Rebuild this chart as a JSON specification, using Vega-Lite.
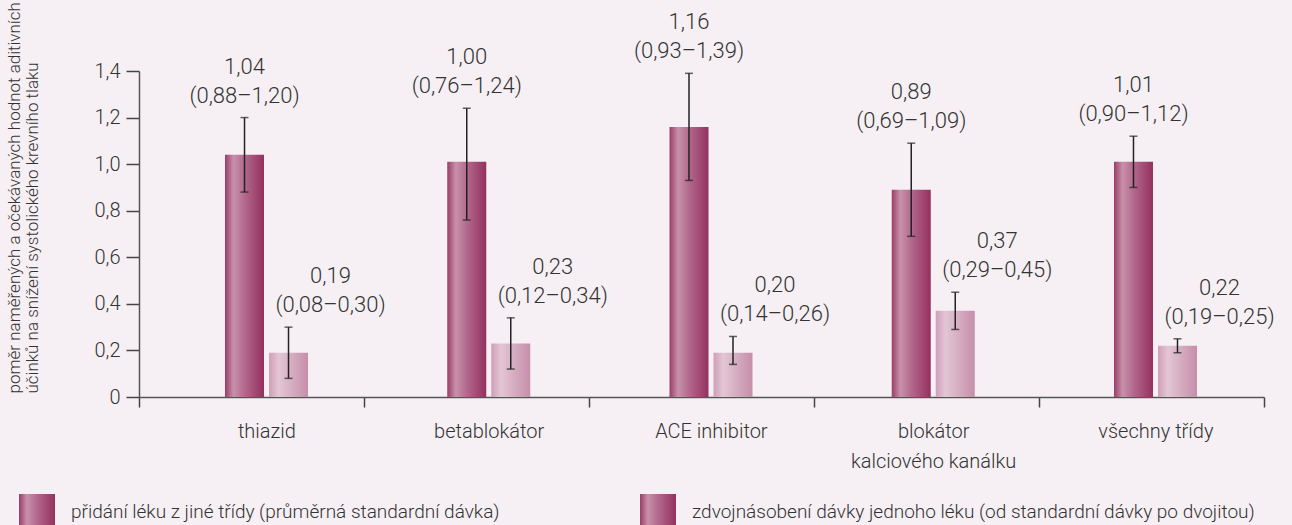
{
  "$schema": "https://vega.github.io/schema/vega-lite/v6.json",
  "width": 1125,
  "height": 326,
  "autosize": {"type": "none"},
  "padding": {"left": 139, "top": 71, "right": 28, "bottom": 128},
  "background": "#f6f0f4",
  "config": {
    "view": {"stroke": null},
    "font": "Roboto",
    "text": {"font": "Roboto", "fontWeight": 300},
    "axis": {"labelFont": "Roboto", "titleFont": "Roboto", "labelFontWeight": 300, "titleFontWeight": 300},
    "legend": {"labelFont": "Roboto", "labelFontWeight": 300}
  },
  "data": {
    "values": [
      {"cat": "thiazid", "series": "přidání léku z jiné třídy (průměrná standardní dávka)", "value": 1.04, "lo": 0.88, "hi": 1.20, "label": "1,04", "ci": "(0,88–1,20)"},
      {"cat": "thiazid", "series": "zdvojnásobení dávky jednoho léku (od standardní dávky po dvojitou)", "value": 0.19, "lo": 0.08, "hi": 0.30, "label": "0,19", "ci": "(0,08–0,30)"},
      {"cat": "betablokátor", "series": "přidání léku z jiné třídy (průměrná standardní dávka)", "value": 1.01, "lo": 0.76, "hi": 1.24, "label": "1,00", "ci": "(0,76–1,24)"},
      {"cat": "betablokátor", "series": "zdvojnásobení dávky jednoho léku (od standardní dávky po dvojitou)", "value": 0.23, "lo": 0.12, "hi": 0.34, "label": "0,23", "ci": "(0,12–0,34)"},
      {"cat": "ACE inhibitor", "series": "přidání léku z jiné třídy (průměrná standardní dávka)", "value": 1.16, "lo": 0.93, "hi": 1.39, "label": "1,16", "ci": "(0,93–1,39)"},
      {"cat": "ACE inhibitor", "series": "zdvojnásobení dávky jednoho léku (od standardní dávky po dvojitou)", "value": 0.19, "lo": 0.14, "hi": 0.26, "label": "0,20", "ci": "(0,14–0,26)"},
      {"cat": "blokátor kalciového kanálku", "series": "přidání léku z jiné třídy (průměrná standardní dávka)", "value": 0.89, "lo": 0.69, "hi": 1.09, "label": "0,89", "ci": "(0,69–1,09)"},
      {"cat": "blokátor kalciového kanálku", "series": "zdvojnásobení dávky jednoho léku (od standardní dávky po dvojitou)", "value": 0.37, "lo": 0.29, "hi": 0.45, "label": "0,37", "ci": "(0,29–0,45)"},
      {"cat": "všechny třídy", "series": "přidání léku z jiné třídy (průměrná standardní dávka)", "value": 1.01, "lo": 0.90, "hi": 1.12, "label": "1,01", "ci": "(0,90–1,12)"},
      {"cat": "všechny třídy", "series": "zdvojnásobení dávky jednoho léku (od standardní dávky po dvojitou)", "value": 0.22, "lo": 0.19, "hi": 0.25, "label": "0,22", "ci": "(0,19–0,25)"}
    ]
  },
  "resolve": {"scale": {"x": "independent"}, "axis": {"x": "independent"}},
  "layer": [
    {
      "mark": {"type": "rule", "opacity": 0},
      "encoding": {
        "x": {
          "field": "cat", "type": "nominal", "sort": null,
          "scale": {"paddingInner": 0, "paddingOuter": 0},
          "axis": {
            "orient": "bottom", "title": null, "labels": false,
            "domainColor": "#555", "domainWidth": 1.5,
            "tickColor": "#444", "tickWidth": 1.5, "tickSize": 10, "tickBand": "extent"
          }
        },
        "y": {"field": "value", "type": "quantitative"}
      }
    },
    {
      "encoding": {
        "x": {
          "field": "cat", "type": "nominal", "sort": null,
          "scale": {"paddingInner": 0, "paddingOuter": 0.031, "align": 1},
          "axis": {
            "orient": "bottom", "title": null, "labelAngle": 0, "domain": false, "ticks": false,
            "labelFontSize": 20, "labelColor": "#333", "labelPadding": 24, "labelOffset": 3,
            "labelBaseline": "top", "labelLineHeight": 30, "labelLimit": 400,
            "labelExpr": "datum.value == 'blokátor kalciového kanálku' ? ['blokátor', 'kalciového kanálku'] : datum.value"
          }
        },
        "xOffset": {
          "field": "series", "type": "nominal",
          "scale": {
            "domain": ["_l", "přidání léku z jiné třídy (průměrná standardní dávka)", "zdvojnásobení dávky jednoho léku (od standardní dávky po dvojitou)", "_r"],
            "paddingInner": 0.1136, "paddingOuter": 0.582, "align": 0.551
          }
        }
      },
      "layer": [
        {
          "transform": [{"filter": "datum.series == 'přidání léku z jiné třídy (průměrná standardní dávka)'"}],
          "mark": {"type": "bar", "color": {"gradient": "linear", "x1": 0, "y1": 0, "x2": 1, "y2": 0, "stops": [
            {"offset": 0, "color": "#9b3d69"},
            {"offset": 0.22, "color": "#c891ab"},
            {"offset": 0.5, "color": "#b2698d"},
            {"offset": 1, "color": "#94305f"}]}},
          "encoding": {
            "y": {
              "field": "value", "type": "quantitative",
              "scale": {"domain": [0, 1.4], "nice": false},
              "axis": {
                "values": [0, 0.2, 0.4, 0.6, 0.8, 1.0, 1.2, 1.4],
                "labelExpr": "datum.value == 0 ? '0' : replace(format(datum.value, '.1f'), '.', ',')",
                "grid": false,
                "domainColor": "#555", "domainWidth": 1.5,
                "tickColor": "#444", "tickWidth": 1.5, "tickSize": 13,
                "labelFontSize": 20, "labelColor": "#333", "labelPadding": 6,
                "title": ["poměr naměřených a očekávaných hodnot aditivních", "účinků na snížení systolického krevního tlaku"],
                "titleFontSize": 17, "titleColor": "#333", "titleAngle": 270,
                "titleAlign": "left", "titleBaseline": "top", "titleX": -133, "titleY": 322, "titleLineHeight": 18
              }
            },
            "opacity": {
              "field": "series", "type": "nominal",
              "scale": {
                "domain": ["přidání léku z jiné třídy (průměrná standardní dávka)", "zdvojnásobení dávky jednoho léku (od standardní dávky po dvojitou)"],
                "range": [1, 1]
              },
              "legend": {
                "title": null, "orient": "none", "legendX": -120, "legendY": 423,
                "direction": "horizontal", "columns": 2,
                "symbolType": "square", "symbolSize": 1296, "symbolStrokeWidth": 0,
                "labelFontSize": 19, "labelColor": "#333", "labelLimit": 700, "labelOffset": 16,
                "columnPadding": 140
              }
            }
          }
        },
        {
          "transform": [{"filter": "datum.series != 'přidání léku z jiné třídy (průměrná standardní dávka)'"}],
          "mark": {"type": "bar", "color": {"gradient": "linear", "x1": 0, "y1": 0, "x2": 1, "y2": 0, "stops": [
            {"offset": 0, "color": "#cf9fb7"},
            {"offset": 0.25, "color": "#e3c6d4"},
            {"offset": 1, "color": "#c58ea9"}]}},
          "encoding": {"y": {"field": "value", "type": "quantitative"}}
        },
        {
          "mark": {"type": "rule", "color": "#222", "strokeWidth": 1.5},
          "encoding": {"y": {"field": "lo", "type": "quantitative"}, "y2": {"field": "hi"}}
        },
        {
          "mark": {"type": "tick", "color": "#222", "size": 8, "thickness": 1.5},
          "encoding": {"y": {"field": "lo", "type": "quantitative"}}
        },
        {
          "mark": {"type": "tick", "color": "#222", "size": 8, "thickness": 1.5},
          "encoding": {"y": {"field": "hi", "type": "quantitative"}}
        },
        {
          "transform": [{"filter": "datum.series == 'přidání léku z jiné třídy (průměrná standardní dávka)'"}],
          "mark": {"type": "text", "fontSize": 22, "color": "#333", "dy": -44, "baseline": "alphabetic"},
          "encoding": {"y": {"field": "hi", "type": "quantitative"}, "text": {"field": "label"}}
        },
        {
          "transform": [{"filter": "datum.series == 'přidání léku z jiné třídy (průměrná standardní dávka)'"}],
          "mark": {"type": "text", "fontSize": 22, "color": "#333", "dy": -15, "baseline": "alphabetic"},
          "encoding": {"y": {"field": "hi", "type": "quantitative"}, "text": {"field": "ci"}}
        },
        {
          "transform": [{"filter": "datum.series != 'přidání léku z jiné třídy (průměrná standardní dávka)'"}],
          "mark": {"type": "text", "fontSize": 22, "color": "#333", "dy": -44, "dx": 42, "baseline": "alphabetic"},
          "encoding": {"y": {"field": "hi", "type": "quantitative"}, "text": {"field": "label"}}
        },
        {
          "transform": [{"filter": "datum.series != 'přidání léku z jiné třídy (průměrná standardní dávka)'"}],
          "mark": {"type": "text", "fontSize": 22, "color": "#333", "dy": -15, "dx": 42, "baseline": "alphabetic"},
          "encoding": {"y": {"field": "hi", "type": "quantitative"}, "text": {"field": "ci"}}
        }
      ]
    }
  ]
}
